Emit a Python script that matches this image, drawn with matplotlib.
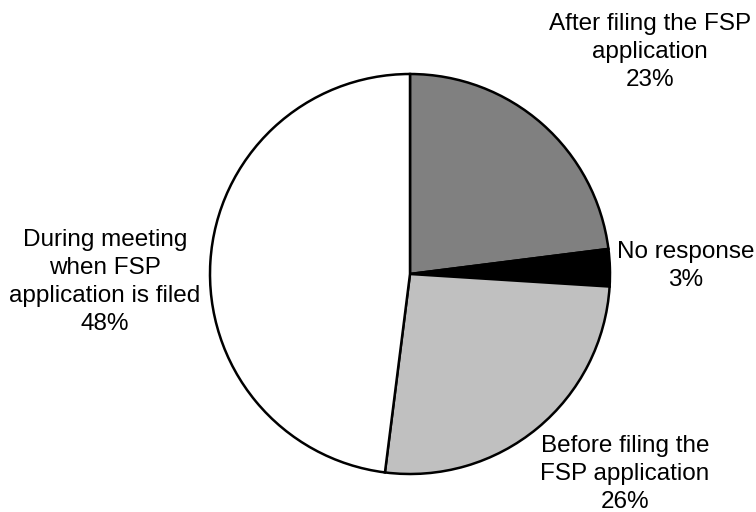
import matplotlib.pyplot as plt

plt.rcParams['font.family'] = ['Liberation Sans', 'DejaVu Sans']

# Share of responses, clockwise from 12 o'clock
labels = ['After filing the FSP\napplication', 'No response',
          'Before filing the\nFSP application',
          'During meeting\nwhen FSP\napplication is filed']
shares = [23, 3, 26, 48]
colors = ['#808080', '#000000', '#c0c0c0', '#ffffff']

# label anchor points (pixels from top-left)
label_pos = [(650, 52), (686, 266), (625, 474), (105, 282)]

W, H = 756, 512
fig = plt.figure(figsize=(W / 100, H / 100), dpi=100)
ax = fig.add_axes([0, 0, 1, 1])

ax.pie(shares, colors=colors, startangle=90, counterclock=False,
       center=(410, H - 274), radius=200, frame=True,
       wedgeprops=dict(edgecolor='black', linewidth=1.8))
ax.set_xlim(0, W)
ax.set_ylim(0, H)
ax.set_aspect('equal')
ax.axis('off')

for lab, val, (x, y) in zip(labels, shares, label_pos):
    ax.text(x, H - y, f'{lab}\n{val}%', ha='center', va='center',
            fontsize=17.5, linespacing=1.37)

fig.savefig('out.png', dpi=100)
